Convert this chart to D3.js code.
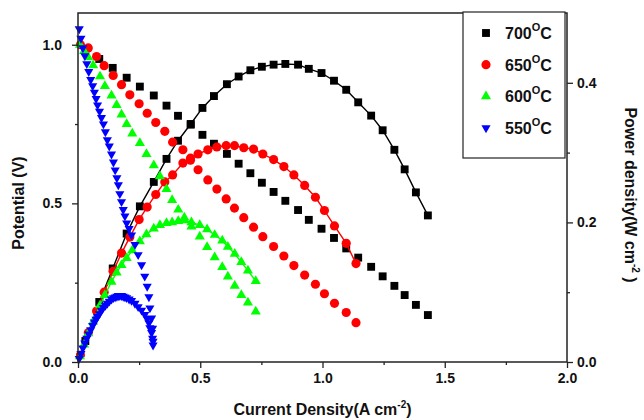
<!DOCTYPE html>
<html>
<head>
<meta charset="utf-8">
<script src="https://cdn.jsdelivr.net/npm/d3@7"></script>
<style>
  html, body { margin: 0; padding: 0; background: #fff; }
  svg { display: block; font-family: Arial, "Liberation Sans", sans-serif; }
</style>
</head>
<body>
<svg id="chart" width="644" height="420"></svg>
<script>
// 700 C
const current700 = [0.03, 0.087, 0.142, 0.199, 0.253, 0.31, 0.362, 0.409, 0.461, 0.509, 0.556, 0.609, 0.657, 0.705, 0.752,
  0.8, 0.848, 0.9, 0.944, 0.996, 1.047, 1.097, 1.146, 1.199, 1.246, 1.294, 1.336, 1.382, 1.431];
const voltage700 = [0.985, 0.955, 0.927, 0.896, 0.868, 0.840, 0.808, 0.776, 0.748, 0.716, 0.688, 0.656, 0.625, 0.595, 0.565,
  0.536, 0.508, 0.479, 0.448, 0.420, 0.391, 0.358, 0.329, 0.300, 0.270, 0.240, 0.211, 0.180, 0.148];
const power700 = [0.030, 0.086, 0.134, 0.184, 0.223, 0.258, 0.291, 0.317, 0.341, 0.364, 0.381, 0.398, 0.409, 0.418, 0.423,
  0.426, 0.427, 0.426, 0.420, 0.414, 0.403, 0.390, 0.372, 0.353, 0.332, 0.304, 0.276, 0.243, 0.210];

// 650 C
const current650 = [0.01, 0.042, 0.076, 0.107, 0.144, 0.178, 0.212, 0.250, 0.283, 0.318, 0.355, 0.387, 0.429, 0.460, 0.491,
  0.531, 0.568, 0.606, 0.640, 0.678, 0.718, 0.756, 0.800, 0.842, 0.883, 0.927, 0.971, 1.008, 1.049, 1.097, 1.137];
const voltage650 = [1.00, 0.99, 0.963, 0.934, 0.903, 0.874, 0.842, 0.814, 0.784, 0.755, 0.727, 0.693, 0.669, 0.636, 0.606,
  0.574, 0.545, 0.514, 0.485, 0.455, 0.425, 0.395, 0.364, 0.334, 0.304, 0.274, 0.245, 0.215, 0.185, 0.156, 0.124];
const power650 = [0.010, 0.042, 0.073, 0.100, 0.130, 0.156, 0.179, 0.204, 0.222, 0.240, 0.258, 0.268, 0.285, 0.292, 0.298,
  0.304, 0.308, 0.310, 0.310, 0.307, 0.305, 0.298, 0.290, 0.280, 0.268, 0.253, 0.236, 0.217, 0.195, 0.170, 0.141];

// 600 C
const current600 = [0.008, 0.025, 0.042, 0.062, 0.09, 0.11, 0.137, 0.158, 0.178, 0.199, 0.222, 0.253, 0.28, 0.31, 0.335,
  0.362, 0.385, 0.41, 0.435, 0.464, 0.498, 0.528, 0.559, 0.590, 0.613, 0.641, 0.668, 0.695, 0.727];
const voltage600 = [1.00, 0.98, 0.96, 0.935, 0.90, 0.87, 0.84, 0.81, 0.78, 0.75, 0.72, 0.69, 0.655, 0.62, 0.585,
  0.545, 0.51, 0.48, 0.455, 0.427, 0.395, 0.362, 0.330, 0.299, 0.269, 0.240, 0.211, 0.187, 0.159];
const power600 = [0.008, 0.025, 0.041, 0.058, 0.081, 0.096, 0.115, 0.128, 0.139, 0.149, 0.160, 0.173, 0.183, 0.191, 0.196,
  0.199, 0.200, 0.202, 0.203, 0.200, 0.196, 0.190, 0.182, 0.174, 0.165, 0.155, 0.143, 0.131, 0.116];

// 550 C
const current550 = [0.005, 0.012, 0.02, 0.028, 0.036, 0.044, 0.052, 0.06, 0.067, 0.074, 0.08, 0.088, 0.096, 0.104, 0.112,
  0.12, 0.128, 0.137, 0.145, 0.152, 0.159, 0.165, 0.171, 0.178, 0.185, 0.192, 0.199, 0.209, 0.219, 0.233,
  0.246, 0.26, 0.273, 0.283, 0.29, 0.294, 0.301, 0.305, 0.307];
const voltage550 = [1.05, 1.02, 0.99, 0.965, 0.94, 0.915, 0.89, 0.87, 0.85, 0.83, 0.81, 0.79, 0.77, 0.75, 0.725,
  0.70, 0.68, 0.655, 0.63, 0.605, 0.58, 0.558, 0.53, 0.505, 0.48, 0.46, 0.438, 0.42, 0.40, 0.37,
  0.338, 0.306, 0.27, 0.238, 0.205, 0.17, 0.138, 0.106, 0.065];
const power550 = [0.005, 0.012, 0.020, 0.027, 0.034, 0.040, 0.046, 0.052, 0.057, 0.061, 0.065, 0.069, 0.074, 0.078, 0.081,
  0.084, 0.087, 0.090, 0.092, 0.093, 0.094, 0.095, 0.095, 0.095, 0.094, 0.093, 0.092, 0.090, 0.088, 0.084,
  0.079, 0.074, 0.068, 0.062, 0.056, 0.049, 0.042, 0.034, 0.024];

const temperatures = ['700', '650', '600', '550'];
const currentTicks = [0, 0.5, 1.0, 1.5, 2.0];
const currentMinor = [0.25, 0.75, 1.25, 1.75];
const voltageTicks = [0, 0.5, 1.0];
const voltageMinor = [0.25, 0.75];
const powerTicks = [0, 0.2, 0.4];
const powerMinor = [0.1, 0.3];

function markerFor(temp) {
  const styles = {
    '700': { color: '#000000', type: d3.symbolSquare, size: 62, rotate: 0 },
    '650': { color: '#ff0000', type: d3.symbolCircle, size: 66, rotate: 0 },
    '600': { color: '#00ff00', type: d3.symbolTriangle, size: 44, rotate: 0 },
    '550': { color: '#0000ff', type: d3.symbolTriangle, size: 36, rotate: 180 },
  };
  return styles[temp];
}

const series = [
  { temp: '700', current: current700, voltage: voltage700, power: power700 },
  { temp: '650', current: current650, voltage: voltage650, power: power650 },
  { temp: '600', current: current600, voltage: voltage600, power: power600 },
  { temp: '550', current: current550, voltage: voltage550, power: power550 },
];

const plot = { left: 78, right: 567, top: 13, bottom: 362 };

const svg = d3.select('#chart');
svg.append('rect').attr('width', 644).attr('height', 420).attr('fill', '#fff');

const x = d3.scaleLinear().domain([0, 2]).range([plot.left, plot.right]);
const yV = d3.scaleLinear().domain([0, 1.1]).range([plot.bottom, plot.top]);
const yP = d3.scaleLinear().domain([0, 0.5]).range([plot.bottom, plot.top]);

// data
for (const s of series) {
  const m = markerFor(s.temp);
  const sym = d3.symbol().type(m.type).size(m.size);
  const vi = s.current.map((c, i) => ({ c, v: s.voltage[i] }));
  const pw = s.current.map((c, i) => ({ c, p: s.power[i] }));

  svg.append('path')
    .datum(pw)
    .attr('fill', 'none')
    .attr('stroke', m.color)
    .attr('stroke-width', 1.4)
    .attr('d', d3.line().x((d) => x(d.c)).y((d) => yP(d.p)));

  svg.append('g')
    .selectAll('path')
    .data(vi)
    .join('path')
    .attr('d', sym)
    .attr('fill', m.color)
    .attr('transform', (d) => `translate(${x(d.c)},${yV(d.v)}) rotate(${m.rotate})`);

  svg.append('g')
    .selectAll('path')
    .data(pw)
    .join('path')
    .attr('d', sym)
    .attr('fill', m.color)
    .attr('transform', (d) => `translate(${x(d.c)},${yP(d.p)}) rotate(${m.rotate})`);
}

// axes
const fmt = d3.format('.1f');
function styleAxis(g) {
  g.select('.domain').remove();
  g.selectAll('line').attr('stroke', '#222').attr('stroke-width', 1.3);
  g.selectAll('text')
    .attr('fill', '#111')
    .attr('font-size', 14)
    .attr('font-weight', 'bold')
    .attr('font-family', 'Arial, "Liberation Sans", sans-serif');
}

svg.append('g').attr('transform', `translate(${plot.left},0)`)
  .call(d3.axisLeft(yV).tickValues(voltageTicks).tickSize(6).tickPadding(10).tickFormat(fmt)).call(styleAxis);
svg.append('g').attr('transform', `translate(${plot.left},0)`)
  .call(d3.axisLeft(yV).tickValues(voltageMinor).tickSize(3).tickFormat('')).call(styleAxis);

svg.append('g').attr('transform', `translate(${plot.right},0)`)
  .call(d3.axisRight(yP).tickValues(powerTicks).tickSize(6).tickPadding(4).tickFormat(fmt)).call(styleAxis);
svg.append('g').attr('transform', `translate(${plot.right},0)`)
  .call(d3.axisRight(yP).tickValues(powerMinor).tickSize(3).tickFormat('')).call(styleAxis);

svg.append('g').attr('transform', `translate(0,${plot.bottom})`)
  .call(d3.axisBottom(x).tickValues(currentTicks).tickSize(6).tickPadding(5).tickFormat(fmt)).call(styleAxis);
svg.append('g').attr('transform', `translate(0,${plot.bottom})`)
  .call(d3.axisBottom(x).tickValues(currentMinor).tickSize(3).tickFormat('')).call(styleAxis);

svg.append('rect')
  .attr('x', plot.left).attr('y', plot.top)
  .attr('width', plot.right - plot.left).attr('height', plot.bottom - plot.top)
  .attr('fill', 'none').attr('stroke', '#222').attr('stroke-width', 1.5);

// titles
const title = (sel) => sel.attr('font-size', 16).attr('font-weight', 'bold').attr('fill', '#111');

svg.append('text')
  .attr('transform', 'translate(24,203) rotate(-90)')
  .attr('text-anchor', 'middle')
  .call(title)
  .text('Potential (V)');

const xt = svg.append('text')
  .attr('x', (plot.left + plot.right) / 2).attr('y', 415)
  .attr('text-anchor', 'middle')
  .call(title);
xt.append('tspan').text('Current Density(A cm');
xt.append('tspan').attr('font-size', 10).attr('dy', -7).text('-2');
xt.append('tspan').attr('dy', 7).text(')');

const yt = svg.append('text')
  .attr('transform', 'translate(625,195) rotate(90)')
  .attr('text-anchor', 'middle')
  .call(title);
yt.append('tspan').text('Power density(W cm');
yt.append('tspan').attr('font-size', 10).attr('dy', -7).text('-2');
yt.append('tspan').attr('dy', 7).text(' )');

// legend
const legend = svg.append('g');
legend.append('rect')
  .attr('x', 463).attr('y', 12).attr('width', 102).attr('height', 146)
  .attr('fill', '#fff').attr('stroke', '#222').attr('stroke-width', 1.2);

const legendY = d3.scalePoint().domain(temperatures).range([33, 128]);
temperatures.forEach((t) => {
  const m = markerFor(t);
  const yy = legendY(t);
  legend.append('path')
    .attr('d', d3.symbol().type(m.type).size(m.size)())
    .attr('fill', m.color)
    .attr('transform', `translate(486,${yy}) rotate(${m.rotate})`);
  const lt = legend.append('text')
    .attr('x', 505).attr('y', yy + 6)
    .attr('font-size', 16)
    .attr('font-weight', 'bold')
    .attr('fill', '#111');
  lt.append('tspan').text(t);
  lt.append('tspan').attr('font-size', 11).attr('dy', -8).text('O');
  lt.append('tspan').attr('dy', 8).text('C');
});
</script>
</body>
</html>
